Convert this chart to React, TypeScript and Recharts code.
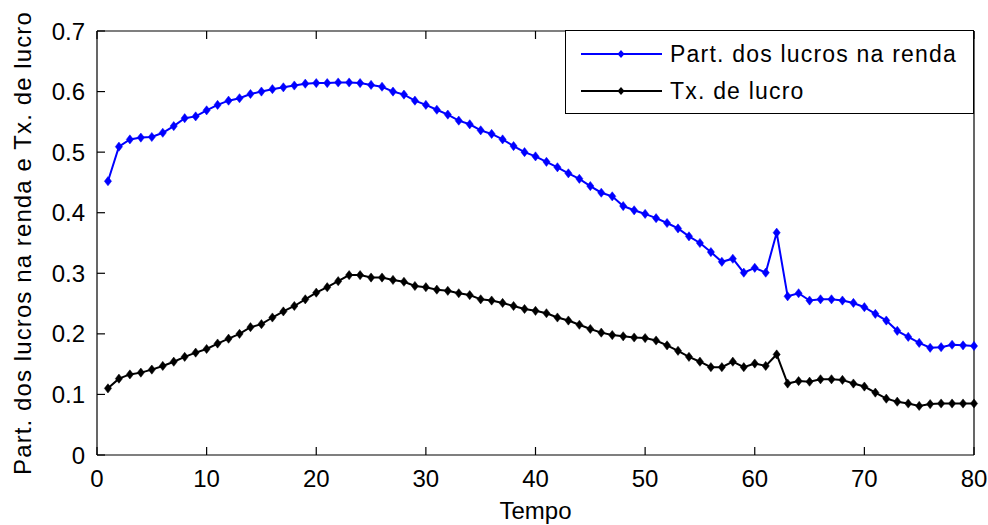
import React from 'react';
import { LineChart, Line, XAxis, YAxis, Legend } from 'recharts';

const tempo: number[] = Array.from({ length: 80 }, (_, i) => i + 1);

const partLucros: number[] = [
  0.452, 0.509, 0.521, 0.524, 0.525, 0.532, 0.543, 0.556, 0.559, 0.569,
  0.578, 0.585, 0.589, 0.596, 0.600, 0.604, 0.607, 0.610, 0.613, 0.614,
  0.614, 0.615, 0.615, 0.614, 0.611, 0.608, 0.600, 0.595, 0.585, 0.578,
  0.570, 0.562, 0.552, 0.546, 0.536, 0.530, 0.521, 0.510, 0.500, 0.493,
  0.484, 0.475, 0.465, 0.456, 0.444, 0.433, 0.427, 0.411, 0.404, 0.398,
  0.391, 0.383, 0.374, 0.361, 0.350, 0.335, 0.319, 0.324, 0.301, 0.309,
  0.301, 0.367, 0.262, 0.267, 0.255, 0.257, 0.257, 0.255, 0.251, 0.244,
  0.233, 0.222, 0.205, 0.195, 0.185, 0.177, 0.178, 0.182, 0.181, 0.180,
];

const txLucro: number[] = [
  0.110, 0.126, 0.133, 0.136, 0.141, 0.147, 0.154, 0.162, 0.169, 0.175,
  0.184, 0.192, 0.200, 0.211, 0.216, 0.227, 0.237, 0.246, 0.257, 0.268,
  0.277, 0.287, 0.297, 0.297, 0.293, 0.293, 0.289, 0.286, 0.279, 0.277,
  0.273, 0.271, 0.267, 0.264, 0.257, 0.255, 0.251, 0.246, 0.241, 0.238,
  0.234, 0.227, 0.222, 0.215, 0.208, 0.202, 0.198, 0.196, 0.194, 0.193,
  0.189, 0.181, 0.172, 0.162, 0.154, 0.145, 0.145, 0.154, 0.145, 0.151,
  0.147, 0.166, 0.118, 0.122, 0.121, 0.125, 0.125, 0.124, 0.118, 0.113,
  0.103, 0.093, 0.088, 0.085, 0.081, 0.084, 0.085, 0.085, 0.085, 0.085,
];

const xTicks: number[] = [0, 10, 20, 30, 40, 50, 60, 70, 80];
const yTicks: number[] = [0, 0.1, 0.2, 0.3, 0.4, 0.5, 0.6, 0.7];

const seriesNames = ['Part. dos lucros na renda', 'Tx. de lucro'];
const seriesColors = ['#0000ff', '#000000'];

const data = tempo.map((t, i) => ({ t, part: partLucros[i], tx: txLucro[i] }));

const FONT = '"Liberation Sans", Arial, sans-serif';

const Diamond = (props: any) => {
  const { cx, cy, fill, key } = props;
  if (cx == null || cy == null) return <g key={key} />;
  const w = 3.6;
  const h = 4.6;
  return (
    <polygon
      key={key}
      points={`${cx},${cy - h} ${cx + w},${cy} ${cx},${cy + h} ${cx - w},${cy}`}
      fill={fill}
      stroke={fill}
      strokeWidth={0.5}
    />
  );
};

const LegendBox = (props: any) => {
  const payload = props.payload || [];
  return (
    <div
      style={{
        width: 407,
        height: 82,
        border: '1px solid #000',
        background: '#fff',
        boxSizing: 'content-box',
        position: 'relative',
        fontFamily: FONT,
      }}
    >
      {payload.map((entry: any, i: number) => (
        <div
          key={i}
          style={{
            position: 'absolute',
            left: 0,
            top: i === 0 ? 7 : 44,
            height: 32,
            display: 'flex',
            alignItems: 'center',
          }}
        >
          <svg width={104} height={32} style={{ display: 'block' }}>
            <line x1={15} y1={16} x2={96} y2={16} stroke={entry.color} strokeWidth={2} />
            <polygon points="55,12 58.5,16 55,20 51.5,16" fill={entry.color} />
          </svg>
          <span style={{ fontSize: 23, letterSpacing: 1.2, color: '#000', whiteSpace: 'nowrap' }}>
            {entry.value}
          </span>
        </div>
      ))}
    </div>
  );
};

const noTick = () => <g />;

export default function App() {
  return (
    <div style={{ position: 'absolute', left: 0, top: 0, width: 988, height: 525, background: '#fff' }}>
      <LineChart
        width={988}
        height={525}
        data={data}
        margin={{ top: 30, right: 13, bottom: 30, left: 37 }}
        style={{ fontFamily: FONT }}
      >
        <XAxis
          dataKey="t"
          type="number"
          domain={[0, 80]}
          ticks={xTicks}
          height={40}
          tickSize={-8}
          tickMargin={23}
          axisLine={{ stroke: '#000', strokeWidth: 1.2 }}
          tickLine={{ stroke: '#000', strokeWidth: 1.2 }}
          tick={{ fill: '#000', fontSize: 24, fontFamily: FONT }}
          label={{ value: 'Tempo', position: 'bottom', offset: 7, fill: '#000', fontSize: 24, fontFamily: FONT }}
        />
        <XAxis
          xAxisId="top"
          dataKey="t"
          type="number"
          orientation="top"
          domain={[0, 80]}
          ticks={xTicks}
          height={1}
          tickSize={-8}
          axisLine={{ stroke: '#000', strokeWidth: 1.2 }}
          tickLine={{ stroke: '#000', strokeWidth: 1.2 }}
          tick={noTick}
        />
        <YAxis
          type="number"
          domain={[0, 0.7]}
          ticks={yTicks}
          width={60}
          tickSize={-8}
          tickMargin={20}
          axisLine={{ stroke: '#000', strokeWidth: 1.2 }}
          tickLine={{ stroke: '#000', strokeWidth: 1.2 }}
          tick={{ fill: '#000', fontSize: 24, fontFamily: FONT }}
          label={{
            value: 'Part. dos lucros na renda e Tx. de lucro',
            angle: -90,
            position: 'left',
            offset: 15,
            fill: '#000',
            fontSize: 24,
            fontFamily: FONT,
            style: { textAnchor: 'middle', letterSpacing: 1.1 },
          }}
        />
        <YAxis
          yAxisId="right"
          orientation="right"
          type="number"
          domain={[0, 0.7]}
          ticks={yTicks}
          width={1}
          tickSize={-8}
          axisLine={{ stroke: '#000', strokeWidth: 1.2 }}
          tickLine={{ stroke: '#000', strokeWidth: 1.2 }}
          tick={noTick}
        />
        <Legend
          layout="horizontal"
          verticalAlign="middle"
          align="center"
          content={<LegendBox />}
          wrapperStyle={{ position: 'absolute', left: 565, top: 30, width: 409, height: 84 }}
        />
        <Line
          dataKey="part"
          name={seriesNames[0]}
          stroke={seriesColors[0]}
          strokeWidth={2}
          dot={(p: any) => <Diamond {...p} fill={seriesColors[0]} />}
          activeDot={false}
          isAnimationActive={false}
        />
        <Line
          dataKey="tx"
          name={seriesNames[1]}
          stroke={seriesColors[1]}
          strokeWidth={2}
          dot={(p: any) => <Diamond {...p} fill={seriesColors[1]} />}
          activeDot={false}
          isAnimationActive={false}
        />
      </LineChart>
    </div>
  );
}
